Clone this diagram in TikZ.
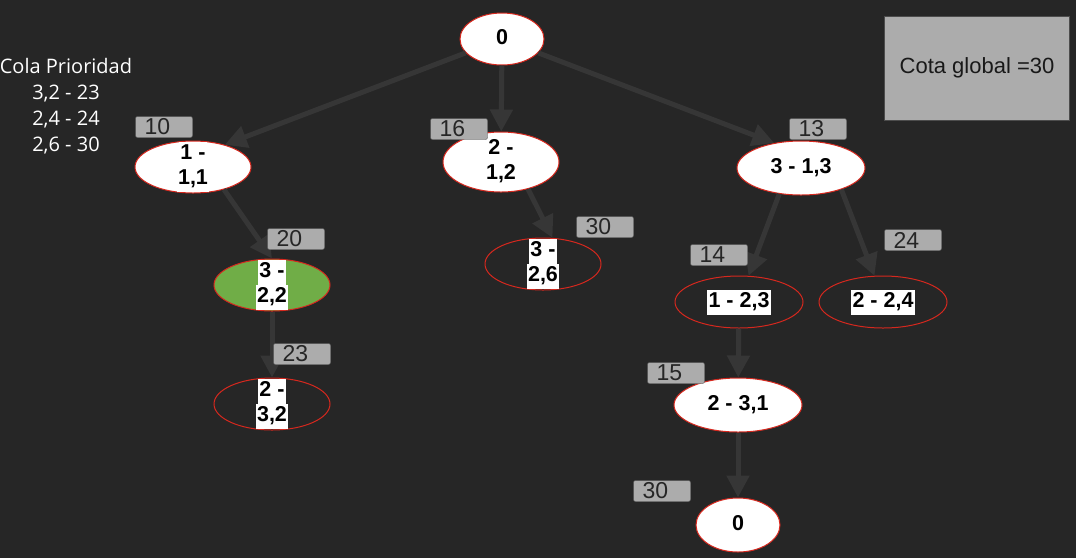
\documentclass[tikz,border=0pt]{standalone}
\usepackage{fontspec}
\setmainfont{Liberation Sans}
\newfontfamily\colafont{Open Sans}
\usetikzlibrary{shapes.geometric}
\usetikzlibrary{arrows.meta}
\definecolor{fondo}{RGB}{38,38,38}
\definecolor{flecha}{RGB}{54,54,54}
\definecolor{borde}{RGB}{214,40,30}
\definecolor{verde}{RGB}{112,173,71}
\definecolor{gris}{RGB}{172,172,172}
\newcommand{\blanco}[1]{{\setlength{\fboxsep}{0pt}\colorbox{white}{\strut\kern1.5pt#1\kern1.5pt}}}

\begin{document}
\begin{tikzpicture}[x=1pt, y=-1pt,
  estado/.style={ellipse, draw=borde, line width=1pt, inner sep=0pt, minimum width=116pt, minimum height=52pt},
  texto/.style={font=\fontsize{21.5}{25}\selectfont\bfseries, align=center, inner sep=0pt},
  cota/.style={draw=gray!70!black, fill=gris, rounded corners=2pt, minimum width=57pt, minimum height=21pt, inner sep=0pt, font=\fontsize{23}{22}\selectfont, text=black!85, text width=39pt, align=left},
  flecha/.style={draw=flecha, line width=5pt, -{Triangle[length=22pt,width=22pt]}}]
\fill[fondo] (0,0) rectangle (1076,558);
\useasboundingbox (0,0) rectangle (1076,558);

\node[text=white, font=\colafont\fontsize{20}{26}\selectfont, align=center] (cola) at (66,106) {Cola Prioridad\\3,2 - 23\\2,4 - 24\\2,6 - 30};
\node[draw=gray!60!black, fill=gris, minimum width=185pt, minimum height=104pt, font=\fontsize{22}{26}\selectfont, text=black!90] (global) at (977,68) {Cota global =30};

\node[estado, fill=white, minimum width=84pt, label={[texto]center:{\blanco{0}}}] (n0) at (502,39) {};
\node[estado, fill=white, label={[texto]center:{\blanco{1 -}\\\blanco{1,1}}}] (n11) at (193,167) {};
\node[estado, fill=white, minimum height=60pt, label={[texto]center:{\blanco{2 -}\\\blanco{1,2}}}] (n12) at (501,162) {};
\node[estado, fill=white, minimum width=128pt, minimum height=54pt, label={[texto]center:{\blanco{3 - 1,3}}}] (n13) at (801,168) {};
\node[estado, fill=verde, label={[texto]center:{\blanco{3 -}\\\blanco{2,2}}}] (n22) at (272,285) {};
\node[estado, label={[texto]center:{\blanco{2 -}\\\blanco{3,2}}}] (n32) at (272,404) {};
\node[estado, label={[texto]center:{\blanco{3 -}\\\blanco{2,6}}}] (n26) at (543,264) {};
\node[estado, minimum width=128pt, label={[texto]center:{\blanco{1 - 2,3}}}] (n23) at (739,302) {};
\node[estado, minimum width=128pt, label={[texto]center:{\blanco{2 - 2,4}}}] (n24) at (883,302) {};
\node[estado, fill=white, minimum width=128pt, minimum height=54pt, label={[texto]center:{\blanco{2 - 3,1}}}] (n31) at (738,405) {};
\node[estado, fill=white, minimum width=84pt, minimum height=54pt, label={[texto]center:{\blanco{0}}}] (n0b) at (738,525) {};

\draw[flecha] (n0) -- (n11.35);
\draw[flecha] (n0) -- (n12);
\draw[flecha] (n0) -- (n13.137);
\draw[flecha] (n11.-36) -- (n22.north);
\draw[flecha] (n22) -- (n32);
\draw[flecha] (n12.-45) -- (n26.70);
\draw[flecha] (n13.-130) -- (n23.70);
\draw[flecha] (n13.-28) -- (n24.108);
\draw[flecha] (n23) -- (n31);
\draw[flecha] (n31) -- (n0b);

\node[cota] (c11) at (164,127) {10};
\node[cota] (c22) at (296,239) {20};
\node[cota] (c32) at (302,354) {23};
\node[cota] (c12) at (459,129) {16};
\node[cota] (c26) at (605,227) {30};
\node[cota] (c13) at (818,129) {13};
\node[cota] (c23) at (719,255) {14};
\node[cota] (c24) at (913,240) {24};
\node[cota] (c31) at (676,373) {15};
\node[cota] (c0b) at (662,491) {30};
\end{tikzpicture}
\end{document}
